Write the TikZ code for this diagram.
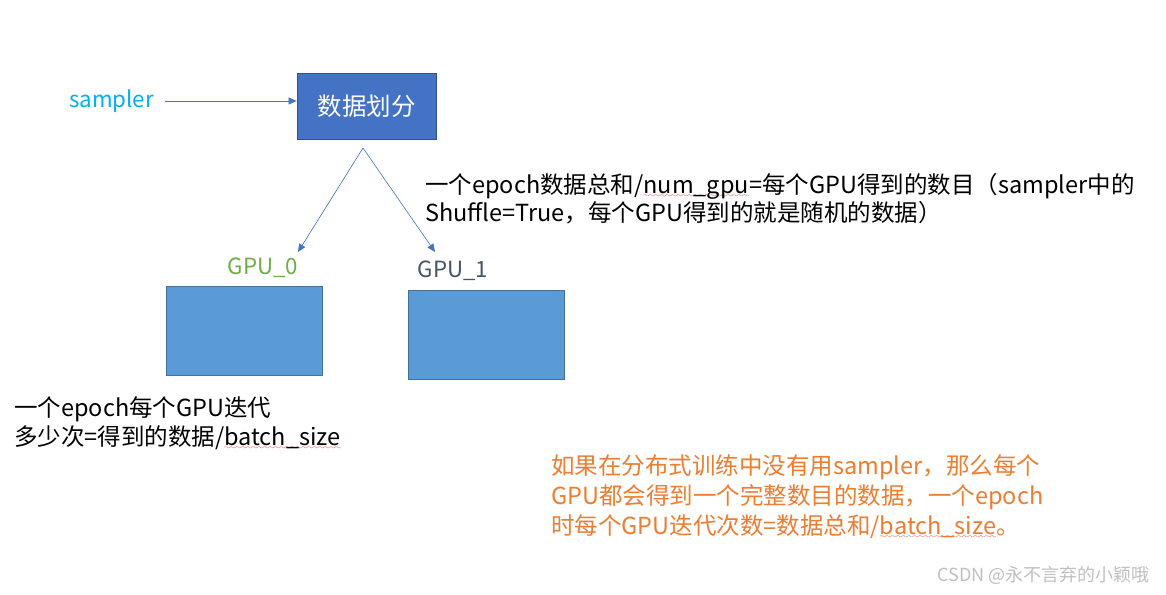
\documentclass[tikz,border=0pt]{standalone}
\usepackage{fontspec}
\setmainfont{Noto Sans CJK SC}
\usetikzlibrary{arrows.meta}
\font\mywavefont=lasy7
\newsavebox\wavebox
\newcommand\redwave[1]{\sbox\wavebox{#1}\rlap{\lower4pt\hbox to \wd\wavebox{\color{wavered}\mywavefont\xleaders\hbox{\char58}\hfil}}\usebox\wavebox}
\definecolor{boxblue}{HTML}{4472C4}
\definecolor{boxline}{HTML}{2F528F}
\definecolor{gpublue}{HTML}{5B9BD5}
\definecolor{gpuline}{HTML}{41719C}
\definecolor{samplercol}{HTML}{00B0F0}
\definecolor{gpugreen}{HTML}{70AD47}
\definecolor{gpuslate}{HTML}{44546A}
\definecolor{noteorange}{HTML}{ED7D31}
\definecolor{wavered}{HTML}{E02020}
\definecolor{wmgray}{HTML}{C0C0C0}
\tikzset{
  mainbox/.style={draw=boxline, line width=0.8pt, fill=boxblue, text=white, minimum width=139pt, minimum height=66pt, inner sep=0pt, font=\fontsize{24.5}{28}\selectfont},
  gpubox/.style={draw=gpuline, line width=0.8pt, fill=gpublue, minimum width=156pt, minimum height=89pt, inner sep=0pt},
  conn/.style={draw=boxblue, line width=0.6pt, -{Triangle[length=8pt,width=7pt]}},
  label/.style={inner sep=0pt, font=\fontsize{22.3}{26}\selectfont},
  note/.style={inner sep=0pt, align=left, anchor=north west, font=\fontsize{23.5}{28.5}\selectfont},
}
\begin{document}
\begin{tikzpicture}[x=1pt,y=-1pt]
\useasboundingbox (0,0) rectangle (1166,594);
\fill[white] (0,0) rectangle (1166,594);

\node[mainbox] (split) at (366.5,106) {数据划分};
\node[label, text=samplercol] (sampler) at (111.5,101) {sampler};
\draw[conn] ([xshift=11pt]sampler.east) -- (sampler.east -| split.west);

\coordinate (apex) at (363,148);
\coordinate (tip0) at (298,252);
\coordinate (tip1) at (435,252);
\draw[conn] (apex) -- (tip0);
\draw[conn] (apex) -- (tip1);

\node[label, text=gpugreen] (l0) at (263,268) {GPU\_0};
\node[label, text=gpuslate] (l1) at (453,271) {GPU\_1};
\node[gpubox] (gpu0) at (244,330.5) {};
\node[gpubox] (gpu1) at (486,334.5) {};

\node[note] (shard) at (425,173) {一个epoch数据总和/\redwave{num\_gpu}=每个GPU得到的数目（sampler中的\\Shuffle=True，每个GPU得到的就是随机的数据）};
\node[note, font=\fontsize{23.5}{29}\selectfont] (iters) at (14,396) {一个epoch每个GPU迭代\\多少次=得到的数据/\redwave{batch\_size}};
\node[note, text=noteorange, font=\fontsize{23.5}{30}\selectfont] (nosampler) at (551,454) {如果在分布式训练中没有用sampler，那么每个\\GPU都会得到一个完整数目的数据，一个epoch\\时每个GPU迭代次数=数据总和/\redwave{batch\_size}。};

\node[inner sep=0pt, anchor=east, text=wmgray, font=\fontsize{18}{20}\selectfont] (wm) at (1150,575) {CSDN @永不言弃的小颖哦};
\end{tikzpicture}
\end{document}
